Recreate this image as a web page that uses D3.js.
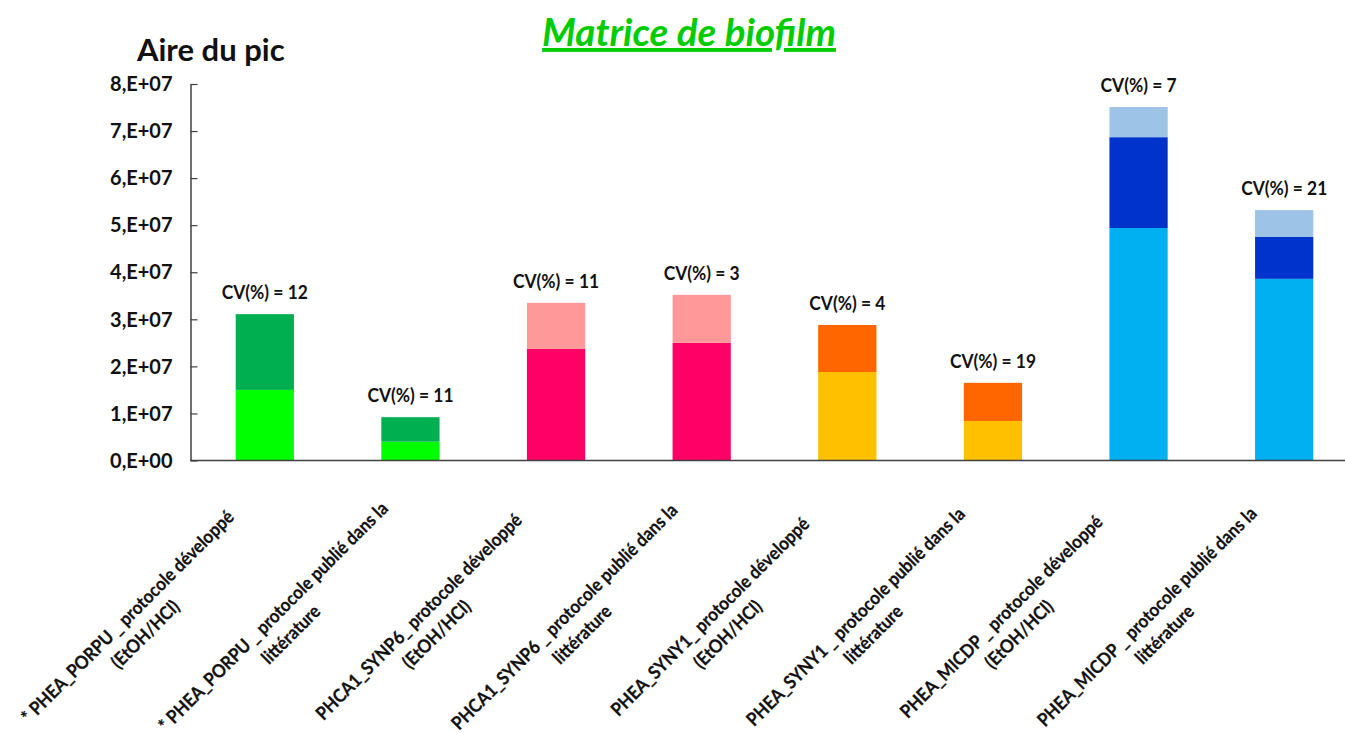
<!DOCTYPE html>
<html>
<head>
<meta charset="utf-8">
<script src="https://cdn.jsdelivr.net/npm/d3@7"></script>
<style>
  html, body { margin: 0; padding: 0; background: #ffffff; }
  svg { display: block; font-family: Lato, "Open Sans", sans-serif; font-weight: bold; }
</style>
</head>
<body>
<svg id="chart" width="1345" height="740"></svg>
<script>
// Sample labels (two lines each)
const categories = [
  ["* PHEA_PORPU _ protocole développé", "(EtOH/HCl)"],
  ["* PHEA_PORPU _ protocole publié dans la", "littérature"],
  ["PHCA1_SYNP6_ protocole développé", "(EtOH/HCl)"],
  ["PHCA1_SYNP6 _ protocole publié dans la", "littérature"],
  ["PHEA_SYNY1_ protocole développé", "(EtOH/HCl)"],
  ["PHEA_SYNY1 _ protocole publié dans la", "littérature"],
  ["PHEA_MICDP _ protocole développé", "(EtOH/HCl)"],
  ["PHEA_MICDP _ protocole publié dans la", "littérature"]
];

// Peak areas, one stacked segment per array
const part1 = [1.50e7, 0.40e7, 2.37e7, 2.50e7, 1.88e7, 0.84e7, 4.94e7, 3.86e7];
const part2 = [1.61e7, 0.52e7, 0.98e7, 1.02e7, 1.00e7, 0.81e7, 1.93e7, 0.89e7];
const part3 = [0, 0, 0, 0, 0, 0, 0.64e7, 0.57e7];

// Coefficient of variation per sample
const cvValues = [12, 11, 11, 3, 4, 19, 7, 21];

// Y axis ticks
const yTickValues = [0, 1e7, 2e7, 3e7, 4e7, 5e7, 6e7, 7e7, 8e7];
const yTickLabels = ["0,E+00", "1,E+07", "2,E+07", "3,E+07", "4,E+07", "5,E+07", "6,E+07", "7,E+07", "8,E+07"];

// Segment colours per sample (bottom, middle, top)
const segmentColors = [
  ["#00FF00", "#00B050", "#00B050"],
  ["#00FF00", "#00B050", "#00B050"],
  ["#FF0066", "#FF9999", "#FF9999"],
  ["#FF0066", "#FF9999", "#FF9999"],
  ["#FFC000", "#FF6600", "#FF6600"],
  ["#FFC000", "#FF6600", "#FF6600"],
  ["#00B0F0", "#0033CC", "#9DC3E6"],
  ["#00B0F0", "#0033CC", "#9DC3E6"]
];

const svg = d3.select("#chart");

const axisLeftX = 190.5;
const axisBottomY = 460.5;

// Narrow the glyphs horizontally so the text keeps a tall, compact look
function condense(sel, k) {
  sel.each(function () {
    const w = this.getComputedTextLength();
    d3.select(this)
      .attr("textLength", w * k)
      .attr("lengthAdjust", "spacingAndGlyphs");
  });
}

const x = d3.scaleBand()
  .domain(d3.range(categories.length))
  .range([192, 1357])
  .paddingInner(0.6)
  .paddingOuter(0.3);

const y = d3.scaleLinear()
  .domain([0, 8e7])
  .range([axisBottomY, 84]);

// Stacked layout
const table = categories.map((c, i) => ({ i, p1: part1[i], p2: part2[i], p3: part3[i] }));
const keys = ["p1", "p2", "p3"];
const stacked = d3.stack().keys(keys)(table);

const barsG = svg.append("g");
stacked.forEach((layer, k) => {
  barsG.selectAll(null)
    .data(layer.filter(d => d[1] - d[0] > 0))
    .join("rect")
    .attr("x", d => x(d.data.i))
    .attr("width", x.bandwidth())
    .attr("y", d => y(d[1]))
    .attr("height", d => y(d[0]) - y(d[1]))
    .attr("fill", d => segmentColors[d.data.i][k]);
});

// CV labels above bars
svg.append("g").selectAll("text")
  .data(table)
  .join("text")
  .attr("x", d => x(d.i) + x.bandwidth() / 2)
  .attr("y", d => y(d.p1 + d.p2 + d.p3) - 15)
  .attr("text-anchor", "middle")
  .attr("font-size", 18.5)
  .attr("fill", "#111")
  .text((d, i) => `CV(%) = ${cvValues[i]}`)
  .call(condense, 0.94);

// Y axis
const yAxis = d3.axisLeft(y)
  .tickValues(yTickValues)
  .tickFormat((d, i) => yTickLabels[i])
  .tickSizeInner(-7)
  .tickSizeOuter(0)
  .tickPadding(18);

const yg = svg.append("g")
  .attr("transform", `translate(${axisLeftX},0)`)
  .call(yAxis);
yg.select(".domain").attr("stroke", "#404040").attr("stroke-width", 1.5);
yg.selectAll(".tick line").attr("stroke", "#404040").attr("stroke-width", 1.2);
yg.selectAll(".tick text")
  .attr("font-family", "Lato, sans-serif")
  .attr("font-weight", "bold")
  .attr("font-size", 21)
  .attr("fill", "#111")
  .call(condense, 0.95);

// X axis baseline
svg.append("line")
  .attr("x1", axisLeftX).attr("x2", 1345)
  .attr("y1", axisBottomY).attr("y2", axisBottomY)
  .attr("stroke", "#404040").attr("stroke-width", 1.5);

// Rotated category labels
const lineHeight = 25;
const labelG = svg.append("g");
categories.forEach((lines, i) => {
  const cx = x(i) + x.bandwidth() / 2 - 137;
  const cy = 617;
  const g = labelG.append("g")
    .attr("transform", `translate(${cx},${cy}) rotate(-45)`);
  g.selectAll("text")
    .data(lines)
    .join("text")
    .attr("x", 0)
    .attr("y", (d, j) => j * lineHeight + 6)
    .attr("text-anchor", "middle")
    .attr("font-size", 18.5)
    .attr("fill", "#111")
    .attr("stroke", "#111")
    .attr("stroke-width", 0.25)
    .text(d => d)
    .call(condense, 0.91);
});

// Y axis title
svg.append("text")
  .attr("x", 137)
  .attr("y", 61)
  .attr("font-size", 31)
  .attr("fill", "#111")
  .text("Aire du pic");

// Chart title
svg.append("text")
  .attr("x", 689)
  .attr("y", 46)
  .attr("text-anchor", "middle")
  .attr("font-size", 38.5)
  .attr("font-style", "italic")
  .attr("fill", "#00CC00")
  .style("text-decoration", "underline")
  .text("Matrice de biofilm");
</script>
</body>
</html>
